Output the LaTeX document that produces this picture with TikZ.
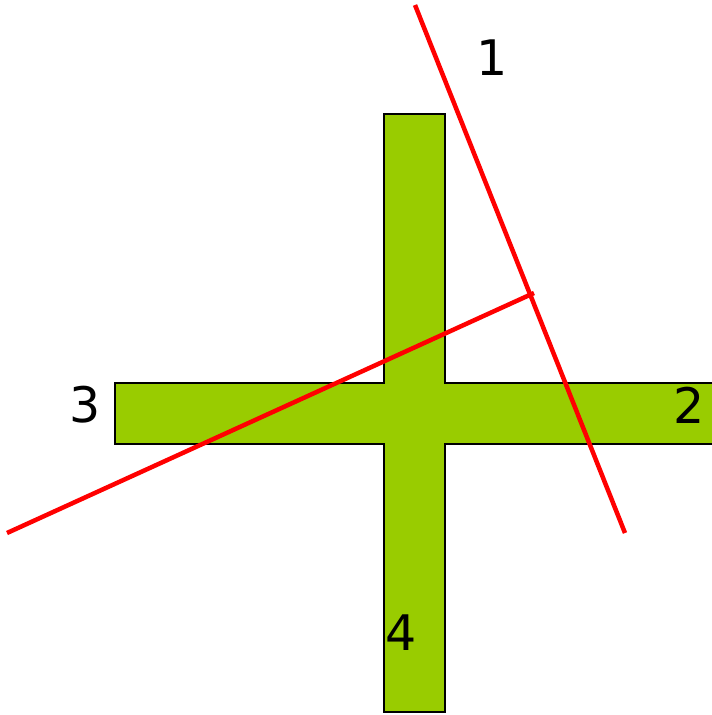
\documentclass[tikz,border=0pt]{standalone}
\usepackage{fontspec}
\setmainfont{DejaVu Sans}
\definecolor{CrossGreen}{RGB}{153, 204, 0}
\definecolor{CutRed}{RGB}{255, 0, 0}
\usetikzlibrary{positioning}

\begin{document}
\begin{tikzpicture}[x=1pt, y=-1pt, font=\fontsize{49}{56}\selectfont,
	cut/.style={CutRed, line width=4.5pt},
	arm/.style={inner sep=0pt}]
	\useasboundingbox (0,0) rectangle (712,715);
	\clip (0,0) rectangle (712,715);
	% cross
	\filldraw[fill=CrossGreen, draw=black, line width=2.5pt]
		(384,114) -- (445,114) -- (445,383) -- (730,383) -- (730,444)
		-- (445,444) -- (445,712) -- (384,712) -- (384,444) -- (115,444)
		-- (115,383) -- (384,383) -- cycle;
	% cutting lines
	\coordinate (c1a) at (415,5);
	\coordinate (c1b) at (625,533);
	\coordinate (c2a) at (7,533);
	\coordinate (c2b) at (534,293);
	\draw[cut] (c1a) -- (c1b);
	\draw[cut] (c2a) -- (c2b);
	% arm labels
	\node[arm] (l1) at (492,58) {1};
	\node[arm] (l2) at (689,405) {2};
	\node[arm] (l3) at (85,405) {3};
	\node[arm] (l4) at (401,633) {4};
\end{tikzpicture}
\end{document}
